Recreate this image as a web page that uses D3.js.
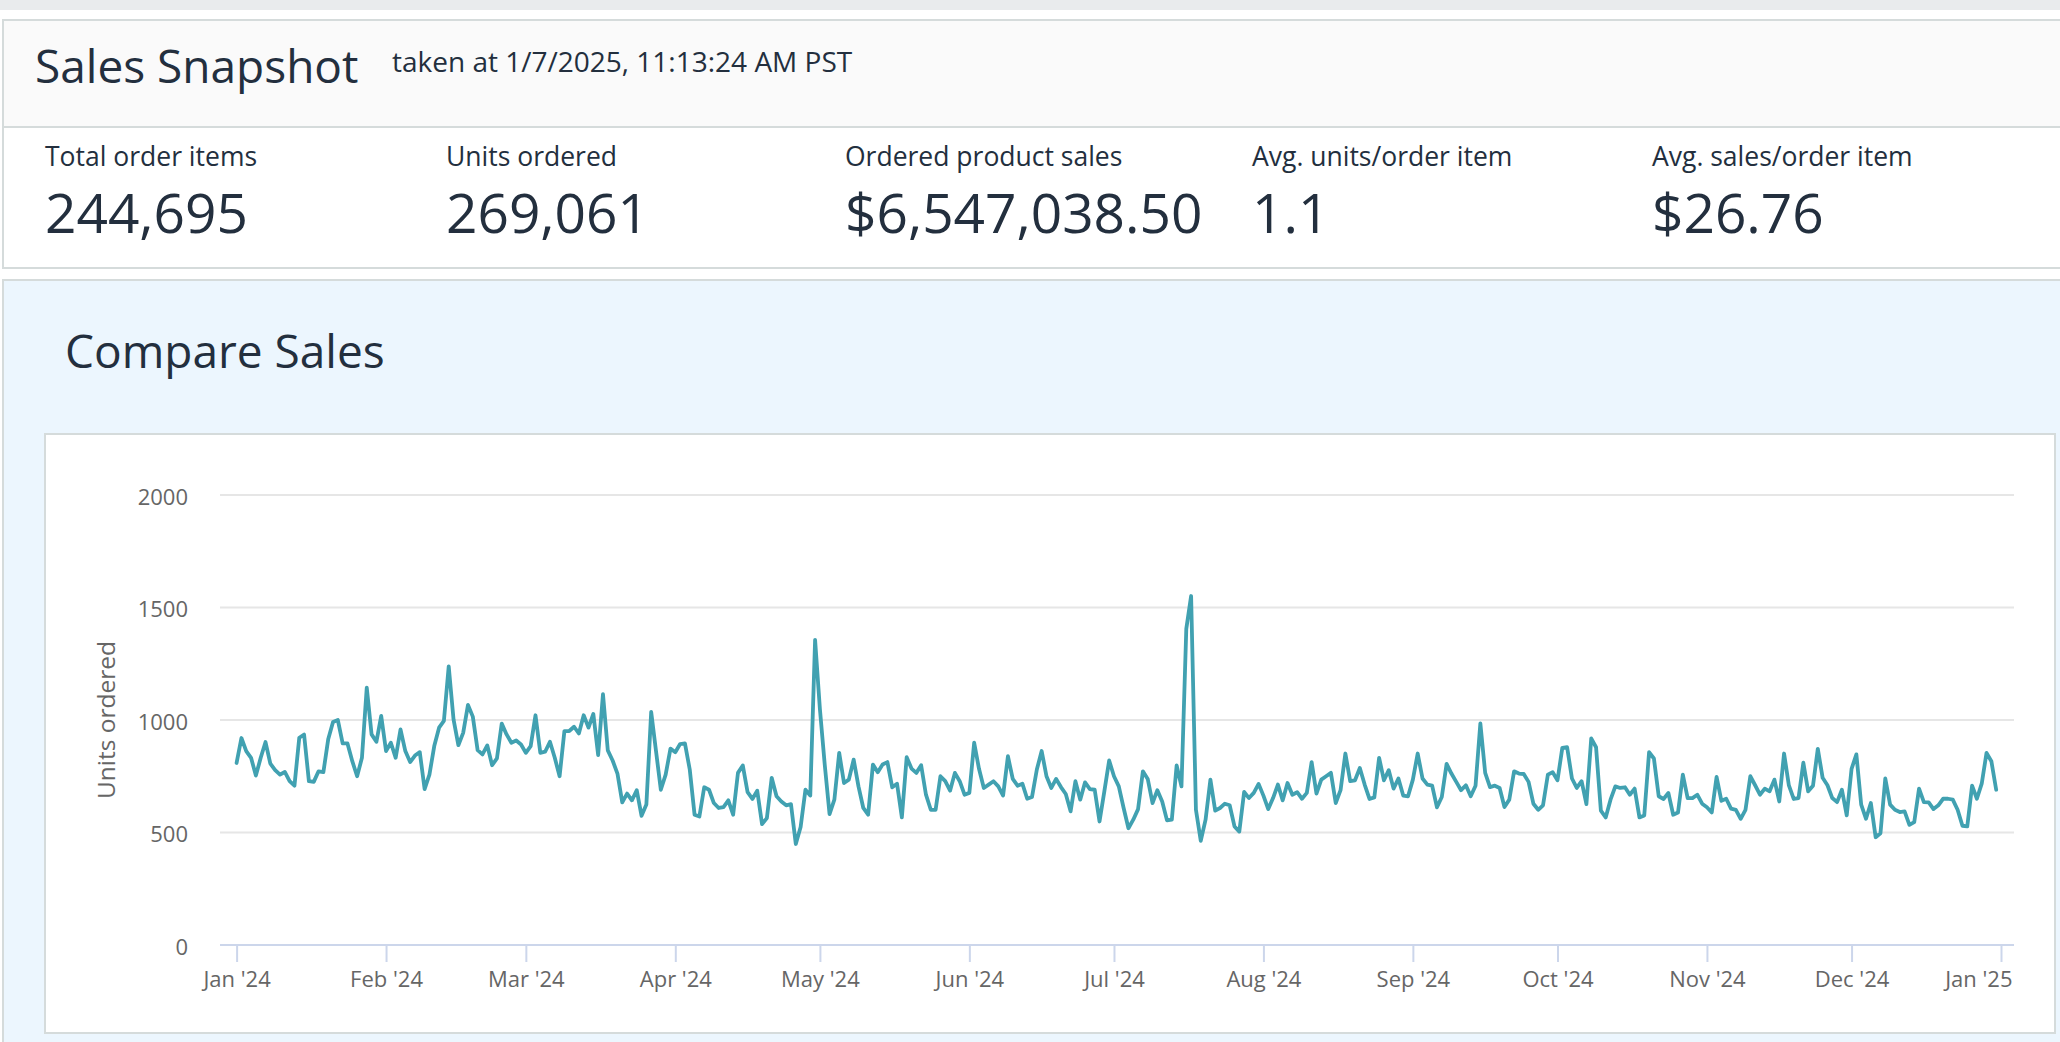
<!DOCTYPE html>
<html lang="en">
<head>
<meta charset="UTF-8">
<script src="https://d3js.org/d3.v7.min.js"></script>
<style>
  body { margin: 0; background: #fff; overflow: hidden; }
  text { font-family: "Open Sans", Arial, sans-serif; }
</style>
</head>
<body>
<svg id="page" width="2060" height="1042"></svg>
<script>
const snapshotTitle = "Sales Snapshot";
const snapshotTime = "taken at 1/7/2025, 11:13:24 AM PST";
const metricLabels = ["Total order items", "Units ordered", "Ordered product sales", "Avg. units/order item", "Avg. sales/order item"];
const metricValues = ["244,695", "269,061", "$6,547,038.50", "1.1", "$26.76"];
const chartTitle = "Compare Sales";
const yTitle = "Units ordered";
const yTicks = [0, 500, 1000, 1500, 2000];
const firstDay = "2024-01-01";

// daily units ordered, Jan 1 2024 .. Dec 31 2024
const unitsOrdered = [
  809, 920, 862, 832, 753, 832, 902, 806, 777, 757, 769, 728, 708, 921, 935, 728, 725, 772, 768, 914,
  991, 1000, 896, 896, 817, 750, 832, 1144, 936, 903, 1018, 862, 899, 832, 958, 862, 813, 842, 857, 693,
  757, 884, 966, 996, 1238, 1003, 888, 943, 1067, 1015, 866, 847, 887, 799, 829, 984, 936, 899, 909, 891,
  854, 884, 1021, 854, 859, 903, 832, 750, 951, 951, 970, 940, 1021, 966, 1027, 844, 1115, 865, 820, 762,
  634, 673, 643, 688, 574, 624, 1036, 862, 690, 757, 873, 857, 893, 896, 780, 579, 571, 701, 690, 631,
  609, 613, 643, 579, 765, 798, 679, 649, 686, 537, 564, 743, 661, 638, 621, 626, 449, 524, 690, 664,
  1356, 1048, 802, 582, 646, 854, 720, 735, 824, 705, 609, 579, 802, 768, 802, 813, 701, 717, 567, 835,
  784, 765, 799, 668, 601, 601, 750, 728, 686, 765, 728, 668, 676, 899, 783, 698, 713, 728, 705, 664,
  839, 738, 708, 717, 650, 658, 780, 862, 750, 698, 738, 702, 671, 594, 728, 646, 723, 693, 690, 549,
  683, 820, 750, 705, 609, 519, 557, 604, 772, 738, 631, 688, 638, 554, 557, 798, 705, 1405, 1551, 601,
  463, 557, 735, 597, 609, 628, 621, 527, 504, 680, 653, 676, 716, 664, 604, 653, 713, 643, 720, 668,
  679, 650, 676, 813, 673, 735, 750, 765, 631, 688, 851, 728, 732, 787, 713, 649, 656, 832, 732, 777,
  695, 740, 664, 661, 735, 851, 740, 713, 708, 612, 658, 805, 762, 725, 688, 710, 661, 708, 985, 765,
  702, 708, 698, 613, 646, 772, 762, 760, 725, 628, 601, 621, 757, 768, 732, 876, 879, 740, 698, 728,
  626, 918, 879, 597, 567, 646, 705, 698, 701, 668, 695, 567, 576, 857, 829, 661, 649, 676, 579, 589,
  757, 653, 653, 668, 628, 612, 589, 747, 641, 650, 606, 601, 561, 601, 750, 710, 668, 695, 683, 735,
  638, 851, 709, 649, 653, 810, 683, 708, 872, 743, 710, 653, 635, 690, 576, 783, 847, 624, 561, 631,
  479, 497, 740, 624, 601, 591, 594, 534, 546, 695, 635, 634, 604, 621, 650, 650, 646, 601, 530, 527,
  708, 650, 717, 854, 817, 690
];

// ---- layout ----
const W = 2060, H = 1042;
const ink = "#232f3e", border = "#d5dbdb";
const metricX = [45, 446, 845, 1252, 1652];
const plot = { left: 220, right: 2014, top: 495, bottom: 945 };

const svg = d3.select("#page").attr("width", W).attr("height", H);

// top strip
svg.append("rect").attr("x", 0).attr("y", 0).attr("width", W).attr("height", 10).attr("fill", "#e9ebed");

// snapshot card
svg.append("rect").attr("x", 3).attr("y", 20).attr("width", W + 20).attr("height", 248)
  .attr("fill", "#fff").attr("stroke", border).attr("stroke-width", 2);
svg.append("rect").attr("x", 4).attr("y", 21).attr("width", W + 20).attr("height", 106).attr("fill", "#fafafa");
svg.append("line").attr("x1", 3).attr("x2", W).attr("y1", 127).attr("y2", 127)
  .attr("stroke", border).attr("stroke-width", 2);

svg.append("text").attr("x", 35).attr("y", 83).attr("fill", ink)
  .style("font-size", "46px").text(snapshotTitle);
svg.append("text").attr("x", 392).attr("y", 72).attr("fill", ink)
  .style("font-size", "28px").text(snapshotTime);

const metrics = svg.append("g").selectAll("g")
  .data(metricLabels.map((l, i) => ({ label: l, value: metricValues[i], x: metricX[i] })))
  .join("g").attr("transform", d => `translate(${d.x},0)`);
metrics.append("text").attr("y", 166).attr("fill", ink).style("font-size", "26.5px").text(d => d.label);
metrics.append("text").attr("y", 233).attr("fill", ink).style("font-size", "55px").text(d => d.value);

// compare sales card
svg.append("rect").attr("x", 3).attr("y", 280).attr("width", W + 20).attr("height", 800)
  .attr("fill", "#ecf6fe").attr("stroke", border).attr("stroke-width", 2);
svg.append("text").attr("x", 65).attr("y", 368).attr("fill", ink)
  .style("font-size", "46px").text(chartTitle);

// chart panel
svg.append("rect").attr("x", 45).attr("y", 434).attr("width", 2010).attr("height", 599)
  .attr("fill", "#fff").attr("stroke", border).attr("stroke-width", 2);

const parse = d3.timeParse("%Y-%m-%d");
const start = parse(firstDay);
const series = unitsOrdered.map((v, i) => ({ date: d3.timeDay.offset(start, i), value: v }));

const x = d3.scaleTime()
  .domain([start, d3.timeYear.offset(start, 1)])
  .range([236.6, 2001]);
const y = d3.scaleLinear().domain([0, 2000]).range([plot.bottom, plot.top]);

// grid lines
svg.append("g").selectAll("line")
  .data(yTicks.filter(t => t > 0))
  .join("line")
  .attr("x1", plot.left).attr("x2", plot.right)
  .attr("y1", d => y(d)).attr("y2", d => y(d))
  .attr("stroke", "#e6e6e6").attr("stroke-width", 2);

// y axis labels
const yAxis = svg.append("g").attr("transform", `translate(188,0)`)
  .call(d3.axisLeft(y).tickValues(yTicks).tickFormat(d3.format("d")).tickSize(0).tickPadding(0));
yAxis.select(".domain").remove();
yAxis.selectAll("text").attr("fill", "#666").attr("dy", "0.42em")
  .style("font-size", "22px").style("font-family", "\"Open Sans\", Arial, sans-serif");

svg.append("text")
  .attr("transform", `translate(106,${(plot.top + plot.bottom) / 2}) rotate(-90)`)
  .attr("text-anchor", "middle").attr("dy", "0.35em")
  .attr("fill", "#666").style("font-size", "24.5px").text(yTitle);

// x axis
const xAxis = svg.append("g").attr("transform", `translate(0,${plot.bottom})`)
  .call(d3.axisBottom(x).ticks(d3.timeMonth.every(1)).tickFormat(d3.timeFormat("%b '%y"))
    .tickSize(17).tickSizeOuter(0).tickPadding(9));
xAxis.select(".domain").remove();
xAxis.selectAll(".tick line").attr("stroke", "#ccd6eb").attr("stroke-width", 2);
xAxis.selectAll(".tick text").attr("fill", "#666")
  .style("font-size", "22px").style("font-family", "\"Open Sans\", Arial, sans-serif");
svg.append("line").attr("x1", plot.left).attr("x2", plot.right)
  .attr("y1", plot.bottom).attr("y2", plot.bottom)
  .attr("stroke", "#ccd6eb").attr("stroke-width", 2);

// keep the last label inside the plot
xAxis.selectAll(".tick").each(function (d) {
  const t = d3.select(this).select("text");
  const w = t.node().getComputedTextLength();
  const over = x(d) + w / 2 - (plot.right - 2);
  if (over > 0) t.attr("x", -over);
});

// line
svg.append("path")
  .datum(series)
  .attr("fill", "none")
  .attr("stroke", "#41a1b1")
  .attr("stroke-width", 3.8)
  .attr("stroke-linejoin", "round")
  .attr("stroke-linecap", "round")
  .attr("d", d3.line().x(d => x(d.date)).y(d => y(d.value)));
</script>
</body>
</html>
